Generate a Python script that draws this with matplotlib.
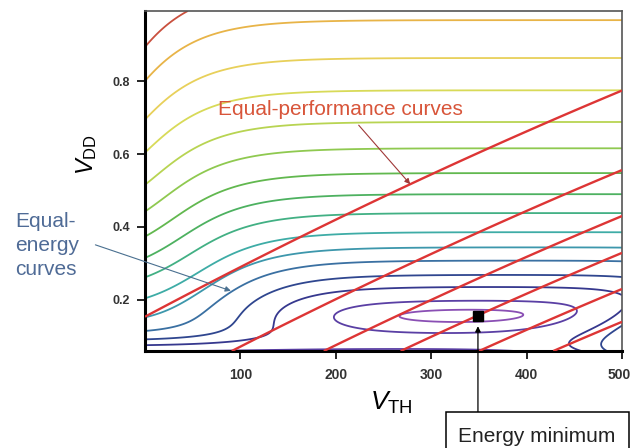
import numpy as np
import matplotlib
matplotlib.use("Agg")
import matplotlib.pyplot as plt
from matplotlib.patches import Rectangle
from matplotlib.transforms import ScaledTranslation

# ---------------- data ----------------
vth_mv = np.linspace(0, 500, 501)          # threshold voltage axis (mV)
vdd_v = np.linspace(0.06, 0.992, 600)      # supply voltage axis (V)

# energy-model parameters (fitted to the contour shapes of the figure)
leak_amp = 0.46       # superthreshold leakage share at VTH=0, VDD=0.8
leak_pow = 1.2
leak_knee = 0.095     # V, leakage share collapses below this VDD
leak_vscale = 46.0    # mV, decay of leakage with VTH
leak_c0, leak_c1 = 100.0, 240.0   # mV, mV/V : shoulder of VTH roll-off
sub_k = 65.5          # subthreshold leakage factor
sub_a = 0.036         # V, subthreshold slope
junc = 8.7e-7         # VTH-independent leakage

energy_levels = [0.0464, 0.050, 0.0609, 0.075, 0.096, 0.119, 0.149, 0.192,
                 0.240, 0.300, 0.379, 0.473, 0.600, 0.745, 0.935, 1.12]
level_colors = ["#8a4fb4", "#5a3fa4", "#36388e", "#2f468f", "#3a70a2",
                "#3d97ac", "#3eaca6", "#42b084", "#4db160", "#62b84f",
                "#8fc950", "#b8d452", "#d8da58", "#e8d05a", "#e8b448",
                "#c9503e"]

# equal-performance curves: VDD = b + slope*VTH + curv*VTH^2
perf_slope = 0.00139                       # V per mV
perf_curv = -3.0e-7                        # V per mV^2
perf_intercepts = [0.154, -0.064, -0.19, -0.291, -0.39, -0.48]

min_vth, min_vdd = 349, 0.156

xticks = [100, 200, 300, 400, 500]
yticks = [0.2, 0.4, 0.6, 0.8]

# ---------------- figure ----------------
plt.rcParams["font.family"] = ["Liberation Sans", "DejaVu Sans"]
plt.rcParams["mathtext.fontset"] = "custom"
plt.rcParams["mathtext.rm"] = "Liberation Sans"
plt.rcParams["mathtext.it"] = "Liberation Sans:italic"

W, H = 632, 448
fig = plt.figure(figsize=(W / 100, H / 100), dpi=100)
ax = fig.add_axes([145 / W, 97 / H, 477 / W, 340 / H])

VT, VD = np.meshgrid(vth_mv, vdd_v)
c = leak_c0 - leak_c1 * VD
rolloff = (1 + np.exp(-c / leak_vscale)) / (1 + np.exp((VT - c) / leak_vscale))
super_leak = (leak_amp * (VD / 0.8) ** (-leak_pow)
              / (1 + (leak_knee / VD) ** 6) * rolloff)
sub_leak = sub_k * np.exp(-VD / sub_a) * (1 + junc * np.exp(VT / 1000 / sub_a))
E = VD ** 2 * (1 + super_leak + sub_leak)

ax.contour(VT, VD, E, levels=energy_levels, colors=level_colors,
           linewidths=1.3, linestyles="solid")

P = VD - perf_slope * VT - perf_curv * VT ** 2
ax.contour(VT, VD, P, levels=sorted(perf_intercepts), colors="#dd3535",
           linewidths=1.7, linestyles="solid", zorder=3)

ax.plot([min_vth], [min_vdd], "s", color="black", ms=6.5, zorder=5)

ax.set_xlim(0, 500)
ax.set_ylim(0.06, 0.992)
ax.set_xticks(xticks)
ax.set_xticklabels([str(t) for t in xticks])
ax.set_yticks(yticks)
ax.set_yticklabels([f"{t:.1f}" for t in yticks])
ax.tick_params(axis="x", direction="out", length=6, width=1.2, pad=6,
               labelsize=10, labelcolor="#333333")
ax.tick_params(axis="y", direction="out", length=6, width=1.2, pad=5,
               labelsize=9, labelcolor="#333333")
for lab in ax.get_xticklabels() + ax.get_yticklabels():
    lab.set_fontweight("bold")
last = ax.get_xticklabels()[-1]
last.set_transform(last.get_transform()
                   + ScaledTranslation(-0.03, 0, fig.dpi_scale_trans))
for side in ("left", "bottom"):
    ax.spines[side].set_linewidth(2.2)
    ax.spines[side].set_color("black")
for side in ("top", "right"):
    ax.spines[side].set_linewidth(1.2)
    ax.spines[side].set_color("#555555")

# axis labels
fig.text(87 / W, 1 - 155 / H, r"$V_{\rm DD}$", rotation=90, fontsize=17,
         ha="center", va="center")
fig.text(391 / W, 1 - 403 / H, r"$V_{\rm TH}$", fontsize=19,
         ha="center", va="center")

# annotations
fig.text(340 / W, 1 - 115 / H, "Equal-performance curves", ha="center",
         va="baseline", color="#d8553a", fontsize=15)
tip = 278
ax.annotate("", xy=(tip, perf_intercepts[0] + perf_slope * tip + perf_curv * tip ** 2),
            xytext=(224, 0.679),
            arrowprops=dict(arrowstyle="-|>", color="#a03838", lw=0.8,
                            mutation_scale=8, shrinkA=0, shrinkB=0),
            annotation_clip=False)

for txt, yb in (("Equal-", 227), ("energy", 251), ("curves", 275)):
    fig.text(15 / W, 1 - yb / H, txt, ha="left", va="baseline",
             color="#4f6b96", fontsize=15)
ax.annotate("", xy=(90, 0.225), xytext=(-52, 0.351),
            arrowprops=dict(arrowstyle="-|>", color="#4a7090", lw=0.8,
                            mutation_scale=8, shrinkA=0, shrinkB=0),
            annotation_clip=False)

fig.add_artist(Rectangle((446 / W, (H - 470) / H), 183 / W, 58 / H,
                         transform=fig.transFigure, fc="white", ec="black",
                         lw=1.1, zorder=4))
fig.text(537 / W, 6 / H, "Energy minimum", ha="center", va="baseline",
         fontsize=15, color="#222222", zorder=5)
ax.annotate("", xy=(min_vth, 0.128), xytext=(min_vth, -0.107),
            arrowprops=dict(arrowstyle="-|>", color="black", lw=0.9,
                            mutation_scale=8, shrinkA=0, shrinkB=0),
            annotation_clip=False, zorder=6)

fig.savefig("out.png", dpi=100)
